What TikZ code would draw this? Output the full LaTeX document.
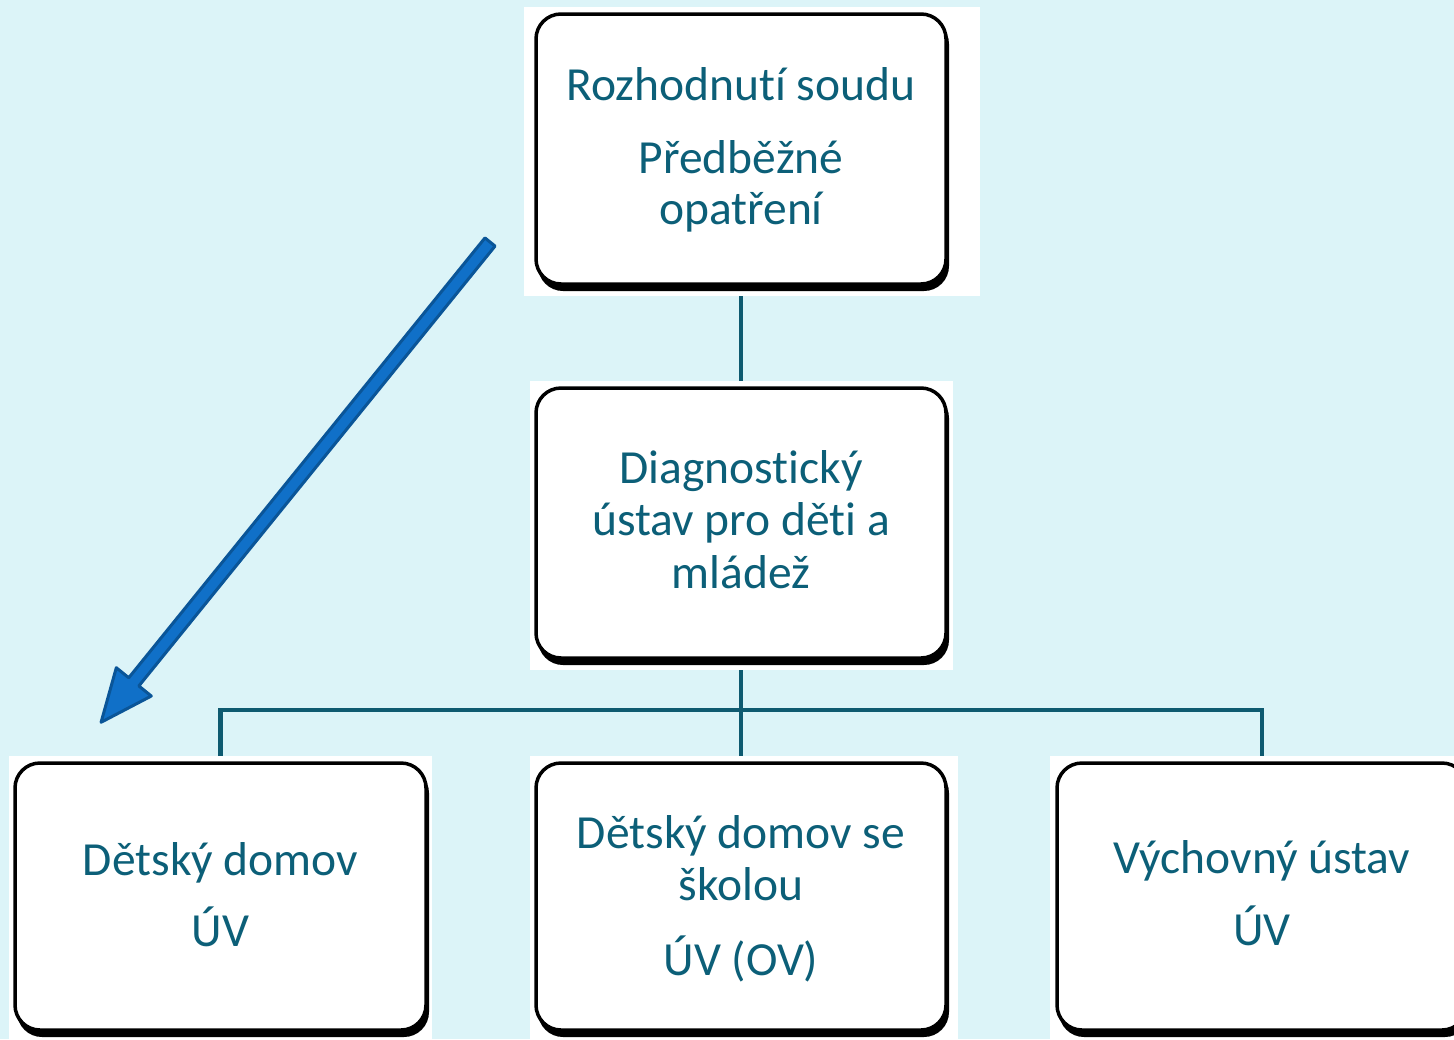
\documentclass[tikz,border=0pt]{standalone}
\usepackage{fontspec}
\setmainfont{Carlito}[Ligatures=NoCommon]
\definecolor{bgc}{HTML}{DCF4F8}
\definecolor{txt}{HTML}{0C5F78}
\definecolor{conn}{HTML}{0E5A70}
\definecolor{arrfill}{HTML}{1070C8}
\definecolor{arrline}{HTML}{0A5598}
\begin{document}
\begin{tikzpicture}[x=1pt,y=-1pt,
  backrect/.style={fill=white,draw=none},
  boxshadow/.style={fill=black,rounded corners=25pt},
  boxstyle/.style={fill=white,draw=black,line width=3.5pt,rounded corners=25pt},
  label/.style={anchor=base,text=txt,font=\fontsize{47.5}{52}\selectfont,inner sep=0pt},
  connector/.style={draw=conn,line width=4.5pt},
  bigarrow/.style={fill=arrfill,draw=arrline,line width=3pt,line join=round}]
\useasboundingbox[fill=bgc] (0,0) rectangle (1454,1039);
% connectors
\coordinate (topS) at (741,284);
\coordinate (midN) at (741,388);
\coordinate (midS) at (741,658);
\coordinate (hub) at (741,710);
\coordinate (blN) at (220.5,763);
\coordinate (bmN) at (741,763);
\coordinate (brN) at (1262,763);
\draw[connector] (topS) -- (midN);
\draw[connector] (midS) -- (bmN);
\draw[connector] (blN) |- (hub) -| (brN);
% white backgrounds
\fill[backrect] (524,7) rectangle (980,296);
\fill[backrect] (530,381) rectangle (953,670);
\fill[backrect] (9,756) rectangle (432,1039);
\fill[backrect] (530,756) rectangle (958,1039);
\fill[backrect] (1050,756) rectangle (1454,1039);
% boxes
\foreach \n/\a/\b/\c/\d in {top/536/14/946/284, mid/536/388/946/658, bl/15/763/426/1030, bm/536/763/946/1030, br/1057/763/1467/1030}{
  \fill[boxshadow] (\a+2,\b+5) rectangle (\c+3,\d+7);
  \draw[boxstyle] (\a,\b) rectangle (\c,\d);
  \coordinate (\n) at ({(\a+\c)/2},{(\b+\d)/2});
}
% texts
\node[label] (t1) at (741,100) {Rozhodnutí soudu};
\node[label] (t2) at (741,173) {Předběžné};
\node[label] (t3) at (741,224) {opatření};
\node[label] (m1) at (741,483) {Diagnostický};
\node[label] (m2) at (741,535) {ústav pro děti a};
\node[label] (m3) at (741,588) {mládež};
\node[label] (l1) at (220.5,875) {Dětský domov};
\node[label] (l2) at (220.5,946) {ÚV};
\node[label] (c1) at (741,848) {Dětský domov se};
\node[label] (c2) at (741,900) {školou};
\node[label] (c3) at (741,975) {ÚV (OV)};
\node[label] (r1) at (1262,873) {Výchovný ústav};
\node[label] (r2) at (1262,945) {ÚV};
% big arrow
\coordinate (arrtail) at (490,242);
\begin{scope}[shift={(arrtail)},rotate=231]
\draw[bigarrow] (0,6.5) -- (566,6.5) -- (566,22.5) -- (618,0) -- (566,-22.5) -- (566,-6.5) -- (0,-6.5) -- cycle;
\end{scope}
\end{tikzpicture}
\end{document}
